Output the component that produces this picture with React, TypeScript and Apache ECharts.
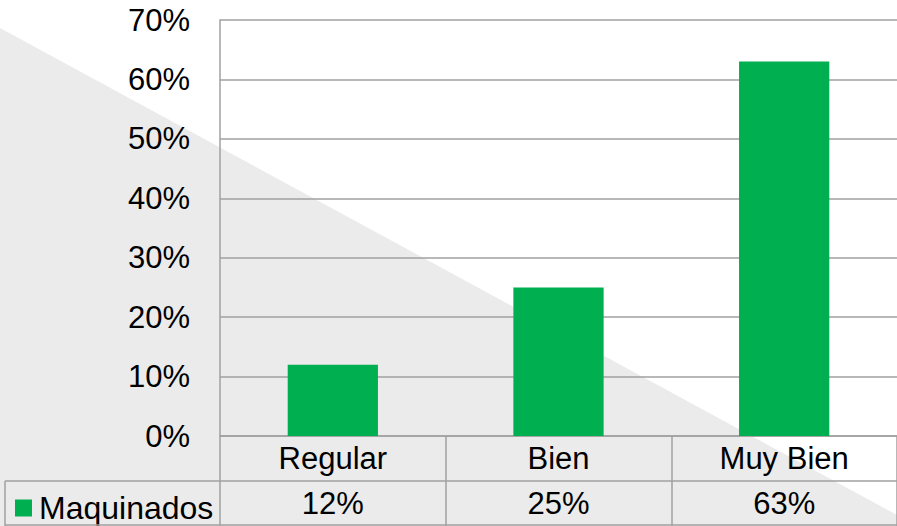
import React, { useEffect, useRef } from "react";
import * as echarts from "echarts";

const categories = ["Regular", "Bien", "Muy Bien"];
const seriesName = "Maquinados";
const values = [12, 25, 63];
const yTicks = { min: 0, max: 70, interval: 10 };

export default function App() {
  const ref = useRef<HTMLDivElement>(null);
  useEffect(() => {
    if (!ref.current) return;
    const chart = echarts.init(ref.current, undefined, { renderer: "svg" });
    const font = "Liberation Sans";
    const lineColor = "#a0a0a0";
    const fs = 31;
    chart.setOption({
      animation: false,
      backgroundColor: "#ffffff",
      textStyle: { fontFamily: font },
      grid: { left: 220, top: 20, right: -3, bottom: 90, containLabel: false },
      legend: {
        data: [seriesName],
        left: 10,
        top: 487,
        icon: "rect",
        itemWidth: 17,
        itemHeight: 17,
        itemGap: 5,
        textStyle: { fontSize: 32, color: "#000", fontFamily: font, padding: [0, 0, 0, 2] },
        selectedMode: false,
      },
      xAxis: [
        {
          type: "category",
          data: categories,
          position: "bottom",
          axisLine: { lineStyle: { color: lineColor, width: 1.5 } },
          axisTick: { show: true, length: 90, lineStyle: { color: lineColor, width: 1.5 } },
          axisLabel: { fontSize: fs, color: "#000", margin: 7, fontFamily: font },
        },
        {
          type: "category",
          data: values.map((v) => v + "%"),
          position: "bottom",
          offset: 45,
          axisLine: { show: false },
          axisTick: { show: false },
          axisLabel: { fontSize: fs, color: "#000", margin: 7, fontFamily: font },
        },
      ],
      yAxis: {
        type: "value",
        min: yTicks.min,
        max: yTicks.max,
        interval: yTicks.interval,
        axisLine: { show: true, lineStyle: { color: lineColor, width: 1.5 } },
        axisTick: { show: false },
        axisLabel: {
          formatter: "{value}%",
          fontSize: fs,
          color: "#000",
          margin: 30,
          fontFamily: font,
        },
        splitLine: { lineStyle: { color: lineColor, width: 1.5 } },
      },
      series: [
        {
          name: seriesName,
          type: "bar",
          data: values,
          barWidth: "40%",
          itemStyle: { color: "#00b050" },
        },
      ],
      graphic: [
        {
          type: "polygon",
          z: -100,
          silent: true,
          shape: { points: [[0, 28], [897, 515], [897, 526], [0, 526]] },
          style: { fill: "#ebebeb" },
        },
        {
          type: "line",
          z: 100,
          shape: { x1: 5, y1: 481, x2: 897, y2: 481 },
          style: { stroke: lineColor, lineWidth: 1.5 },
        },
        {
          type: "line",
          z: 100,
          shape: { x1: 5, y1: 525, x2: 897, y2: 525 },
          style: { stroke: lineColor, lineWidth: 1.5 },
        },
        {
          type: "line",
          z: 100,
          shape: { x1: 5, y1: 481, x2: 5, y2: 526 },
          style: { stroke: lineColor, lineWidth: 1.5 },
        },
      ],
    });
    return () => chart.dispose();
  }, []);
  return <div ref={ref} style={{ width: 897, height: 526, position: "absolute", left: 0, top: 0 }} />;
}
